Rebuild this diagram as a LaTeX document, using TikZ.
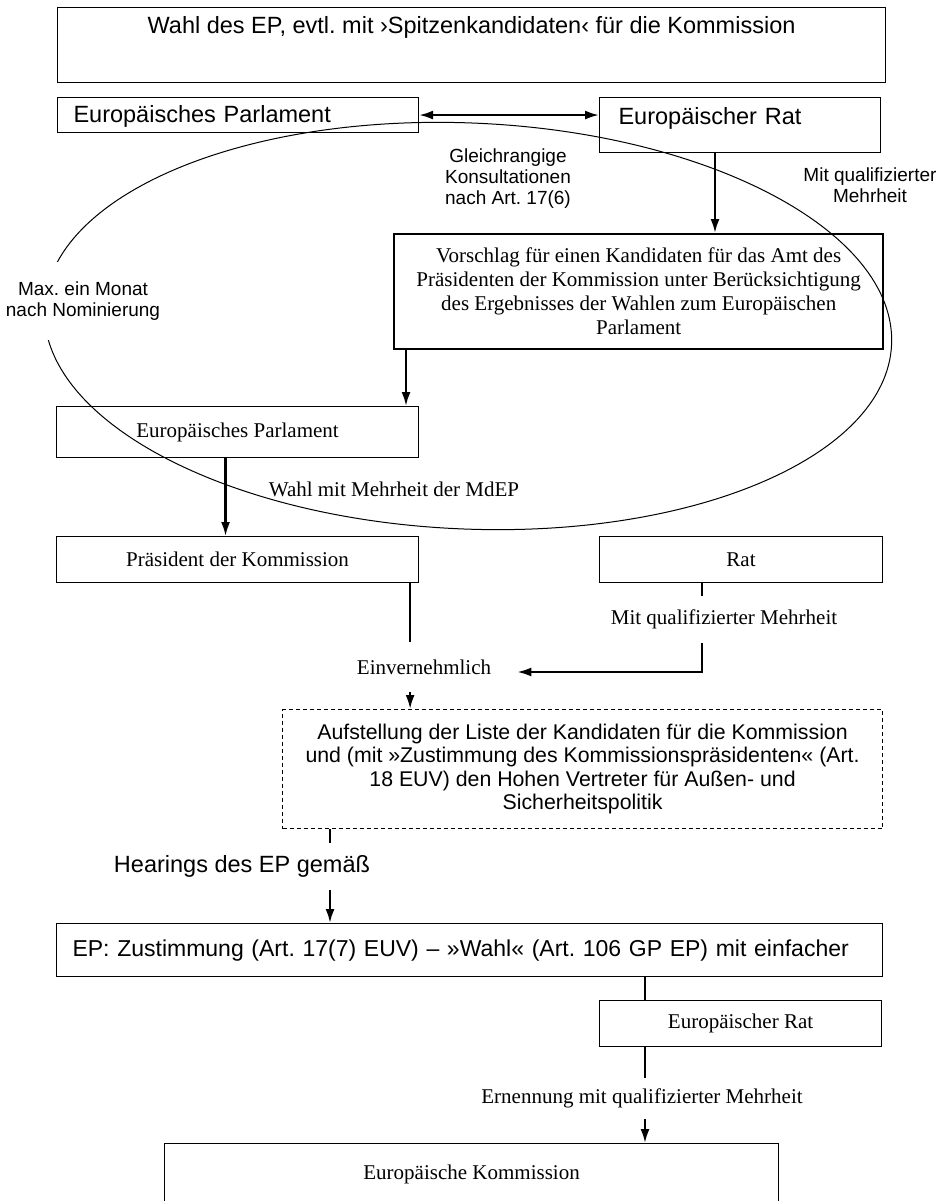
\documentclass[tikz,border=0pt]{standalone}
\usepackage{fontspec}
\setmainfont{Liberation Serif}
\newfontfamily\arialfont{Liberation Sans}
\usetikzlibrary{arrows.meta}
\frenchspacing

\begin{document}
\begin{tikzpicture}[x=1pt,y=-1pt,
    box/.style={draw,line width=1.1pt,inner sep=0pt},
    conn/.style={line width=2.2pt},
    arr/.style={conn,-{Latex[length=14pt,width=9pt]}},
    sansbig/.style={font=\arialfont\fontsize{23.5}{27}\selectfont},
    sansmid/.style={font=\arialfont\fontsize{21.3}{23.5}\selectfont},
    sanssmall/.style={font=\arialfont\fontsize{19}{21}\selectfont},
    serif/.style={font=\fontsize{21}{24}\selectfont}]
    \useasboundingbox (0,0) rectangle (946,1201);

    % Top: election of the EP
    \node[box,sansbig,anchor=north west,minimum width=828pt,text height=26pt,text depth=49pt] (wahl) at (57,7)
        {Wahl des EP, evtl. mit ›Spitzenkandidaten‹ für die Kommission};

    % Parliament and European Council
    \node[box,sansbig,anchor=north west,text width=329pt,inner xsep=16pt,text height=25pt,text depth=10pt,align=left] (ep) at (57,97)
        {Europäisches Parlament};
    \node[box,sansbig,anchor=north west,text width=243pt,inner xsep=19pt,text height=27pt,text depth=28pt,align=left] (er) at (599,97)
        {Europäischer Rat};
    \draw[conn,{Latex[length=14pt,width=9pt]}-{Latex[length=14pt,width=9pt]}] (ep.east) -- (ep.east -| er.west);
    \node[sanssmall,align=center] (kons) at (508,179) {Gleichrangige\\Konsultationen\\nach Art. 17(6)};
    \node[sanssmall,align=center] (mq1) at (870,185) {Mit qualifizierter\\Mehrheit};

    % Proposal of the candidate
    \node[box,serif,line width=2.4pt,anchor=north west,minimum width=489pt,minimum height=115pt,align=center] (vor) at (393,233)
        {Vorschlag für einen Kandidaten für das Amt des\\Präsidenten der Kommission unter Berücksichtigung\\des Ergebnisses der Wahlen zum Europäischen\\Parlament};
    \draw[arr] ([xshift=116pt]er.south west) -- ([xshift=116pt]er.south west |- vor.north);

    % Election of the president
    \node[box,serif,anchor=north west,minimum width=362pt,minimum height=51pt] (ep2) at (56,406) {Europäisches Parlament};
    \draw[arr] ([xshift=13pt]vor.south west) -- ([xshift=13pt]vor.south west |- ep2.north);
    \node[serif] (mdep) at (394,489) {Wahl mit Mehrheit der MdEP};
    \node[box,serif,anchor=north west,minimum width=362pt,minimum height=46pt] (pres) at (56,536) {Präsident der Kommission};
    \node[box,serif,anchor=north west,minimum width=283pt,minimum height=46pt] (rat) at (599,536) {Rat};
    \draw[arr] ([xshift=-12pt]ep2.south) -- ([xshift=-12pt]pres.north);

    % One month loop
    \draw[line width=1pt,rotate around={-2.5:(468,326)}] (468,326) ellipse [x radius=424pt,y radius=203pt];
    \node[sanssmall,align=center,fill=white,minimum height=78pt] (monat) at (83,301) {Max. ein Monat\\nach Nominierung};

    % List of candidates
    \node[box,sansmid,dash pattern=on 4pt off 3pt,anchor=north west,minimum width=600pt,minimum height=119pt,align=center] (liste) at (282,709)
        {Aufstellung der Liste der Kandidaten für die Kommission\\und (mit »Zustimmung des Kommissionspräsidenten« (Art.\\18 EUV) den Hohen Vertreter für Außen- und\\Sicherheitspolitik};
    \node[serif,minimum height=47pt,inner sep=0pt] (mqm) at (724,619.5) {Mit qualifizierter Mehrheit};
    \node[serif,minimum height=49pt,inner xsep=26pt,inner ysep=0pt] (einv) at (424,667) {Einvernehmlich};
    \draw[conn] ([xshift=-9pt]pres.south east) -- ([xshift=-9pt]pres.south east |- einv.north);
    \draw[arr] ([xshift=-9pt]pres.south east |- einv.south) -- ([xshift=-9pt]pres.south east |- liste.north);
    \draw[conn] ([xshift=-39pt]rat.south) -- ([xshift=-39pt]rat.south |- mqm.north);
    \draw[arr] ([xshift=-39pt]rat.south |- mqm.south) |- ([yshift=-5pt]einv.east);

    % Hearings and consent of the EP
    \node[sansbig,minimum height=47pt,inner sep=0pt] (hear) at (242,866.5) {Hearings des EP gemäß};
    \node[box,sansbig,font=\arialfont\fontsize{23}{27}\selectfont,anchor=north west,text width=794pt,inner xsep=16pt,minimum height=53pt,align=left] (epz) at (56,923)
        {\mbox{EP: Zustimmung (Art. 17(7) EUV) – »Wahl« (Art. 106 GP EP) mit einfacher}};
    \draw[conn] ([xshift=48pt]liste.south west) -- ([xshift=48pt]liste.south west |- hear.north);
    \draw[arr] ([xshift=48pt]liste.south west |- hear.south) -- ([xshift=48pt]liste.south west |- epz.north);

    % Appointment by the European Council
    \node[box,serif,anchor=north west,minimum width=282pt,minimum height=46pt] (er2) at (599,1000) {Europäischer Rat};
    \draw[conn] ([xshift=46pt]er2.north west |- epz.south) -- ([xshift=46pt]er2.north west);
    \node[serif,minimum height=41pt,inner sep=0pt] (ern) at (642,1098.5) {Ernennung mit qualifizierter Mehrheit};
    \node[box,serif,anchor=north west,minimum width=614pt,text height=36pt,text depth=44pt] (kom) at (164,1143) {Europäische Kommission};
    \draw[conn] ([xshift=46pt]er2.south west) -- ([xshift=46pt]er2.south west |- ern.north);
    \draw[arr] ([xshift=46pt]er2.south west |- ern.south) -- ([xshift=46pt]er2.south west |- kom.north);
\end{tikzpicture}
\end{document}
